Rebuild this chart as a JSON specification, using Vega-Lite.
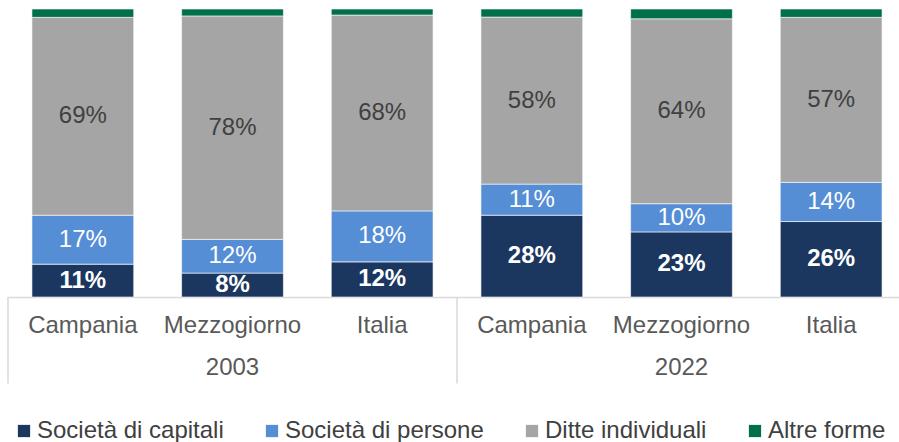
{
  "$schema": "https://vega.github.io/schema/vega-lite/v6.json",
  "width": 891,
  "height": 288,
  "autosize": {"type": "none"},
  "padding": {"left": 8, "top": 9, "right": 0, "bottom": 145},
  "background": "white",
  "config": {"view": {"stroke": null}, "font": "Liberation Sans"},
  "datasets": {
    "shares": [
      {"bar": "2003|Campania", "type": "Società di capitali", "rank": 1, "value": 0.114},
      {"bar": "2003|Campania", "type": "Società di persone", "rank": 2, "value": 0.170},
      {"bar": "2003|Campania", "type": "Ditte individuali", "rank": 3, "value": 0.687},
      {"bar": "2003|Campania", "type": "Altre forme", "rank": 4, "value": 0.029},
      {"bar": "2003|Mezzogiorno", "type": "Società di capitali", "rank": 1, "value": 0.083},
      {"bar": "2003|Mezzogiorno", "type": "Società di persone", "rank": 2, "value": 0.117},
      {"bar": "2003|Mezzogiorno", "type": "Ditte individuali", "rank": 3, "value": 0.776},
      {"bar": "2003|Mezzogiorno", "type": "Altre forme", "rank": 4, "value": 0.024},
      {"bar": "2003|Italia", "type": "Società di capitali", "rank": 1, "value": 0.122},
      {"bar": "2003|Italia", "type": "Società di persone", "rank": 2, "value": 0.177},
      {"bar": "2003|Italia", "type": "Ditte individuali", "rank": 3, "value": 0.680},
      {"bar": "2003|Italia", "type": "Altre forme", "rank": 4, "value": 0.021},
      {"bar": "2022|Campania", "type": "Società di capitali", "rank": 1, "value": 0.284},
      {"bar": "2022|Campania", "type": "Società di persone", "rank": 2, "value": 0.108},
      {"bar": "2022|Campania", "type": "Ditte individuali", "rank": 3, "value": 0.580},
      {"bar": "2022|Campania", "type": "Altre forme", "rank": 4, "value": 0.028},
      {"bar": "2022|Mezzogiorno", "type": "Società di capitali", "rank": 1, "value": 0.226},
      {"bar": "2022|Mezzogiorno", "type": "Società di persone", "rank": 2, "value": 0.098},
      {"bar": "2022|Mezzogiorno", "type": "Ditte individuali", "rank": 3, "value": 0.642},
      {"bar": "2022|Mezzogiorno", "type": "Altre forme", "rank": 4, "value": 0.034},
      {"bar": "2022|Italia", "type": "Società di capitali", "rank": 1, "value": 0.262},
      {"bar": "2022|Italia", "type": "Società di persone", "rank": 2, "value": 0.136},
      {"bar": "2022|Italia", "type": "Ditte individuali", "rank": 3, "value": 0.573},
      {"bar": "2022|Italia", "type": "Altre forme", "rank": 4, "value": 0.029}
    ],
    "years": [
      {"bar": "2003|Mezzogiorno", "year": "2003", "pos": -0.245},
      {"bar": "2022|Mezzogiorno", "year": "2022", "pos": -0.245}
    ],
    "dividers": [
      {"bar": "2003|Campania", "top": 0, "bottom": -0.3},
      {"bar": "2022|Campania", "top": 0, "bottom": -0.3}
    ]
  },
  "layer": [
    {
      "data": {"name": "shares"},
      "mark": {"type": "bar", "width": {"band": 0.68}, "stroke": "#ffffff", "strokeWidth": 0.6},
      "encoding": {
        "x": {
          "field": "bar",
          "type": "nominal",
          "scale": {
            "domain": ["2003|Campania", "2003|Mezzogiorno", "2003|Italia", "2022|Campania", "2022|Mezzogiorno", "2022|Italia"],
            "range": [0, 898],
            "paddingInner": 0,
            "paddingOuter": 0
          },
          "axis": {
            "title": null,
            "labelExpr": "split(datum.label, '|')[1]",
            "ticks": false,
            "tickSize": 0,
            "labelPadding": 16,
            "labelFontSize": 24,
            "labelColor": "#595959",
            "labelFont": "Liberation Sans",
            "labelAngle": 0,
            "labelOverlap": false,
            "labelBound": false,
            "labelLimit": 300,
            "domainColor": "#d9d9d9",
            "domainWidth": 1.5
          }
        },
        "y": {
          "field": "value",
          "type": "quantitative",
          "stack": "zero",
          "scale": {"domain": [0, 1], "nice": false, "zero": false},
          "axis": null
        },
        "color": {
          "field": "type",
          "type": "nominal",
          "scale": {
            "domain": ["Società di capitali", "Società di persone", "Ditte individuali", "Altre forme"],
            "range": ["#1B365F", "#558ED5", "#A5A5A5", "#00704A"]
          },
          "legend": {
            "orient": "none",
            "legendX": 4,
            "legendY": 410,
            "direction": "horizontal",
            "title": null,
            "symbolType": "square",
            "symbolSize": 150,
            "symbolStrokeWidth": 0,
            "labelFontSize": 24,
            "labelFont": "Liberation Sans",
            "labelColor": "#404040",
            "labelOffset": 1,
            "columnPadding": 36,
            "labelLimit": 300
          }
        },
        "order": {"field": "rank", "type": "quantitative"}
      }
    },
    {
      "data": {"name": "shares"},
      "transform": [{"filter": "datum.rank < 4"}],
      "mark": {
        "type": "text",
        "fontSize": 24,
        "font": "Liberation Sans",
        "baseline": "middle",
        "align": "center",
        "fontWeight": {"expr": "datum.rank == 1 ? 'bold' : 'normal'"}
      },
      "encoding": {
        "x": {"field": "bar", "type": "nominal"},
        "y": {"field": "value", "type": "quantitative", "stack": "zero", "bandPosition": 0.5},
        "order": {"field": "rank", "type": "quantitative"},
        "text": {"field": "value", "type": "quantitative", "format": ".0%"},
        "color": {
          "condition": {"test": "datum.rank == 3", "value": "#404040"},
          "value": "#ffffff"
        }
      }
    },
    {
      "data": {"name": "years"},
      "mark": {"type": "text", "fontSize": 24, "font": "Liberation Sans", "color": "#595959", "baseline": "middle", "align": "center"},
      "encoding": {
        "x": {"field": "bar", "type": "nominal"},
        "y": {"field": "pos", "type": "quantitative"},
        "text": {"field": "year", "type": "nominal"}
      }
    },
    {
      "data": {"name": "dividers"},
      "mark": {"type": "rule", "color": "#d9d9d9", "strokeWidth": 1.5},
      "encoding": {
        "x": {"field": "bar", "type": "nominal", "bandPosition": 0},
        "y": {"field": "top", "type": "quantitative"},
        "y2": {"field": "bottom"}
      }
    }
  ]
}
